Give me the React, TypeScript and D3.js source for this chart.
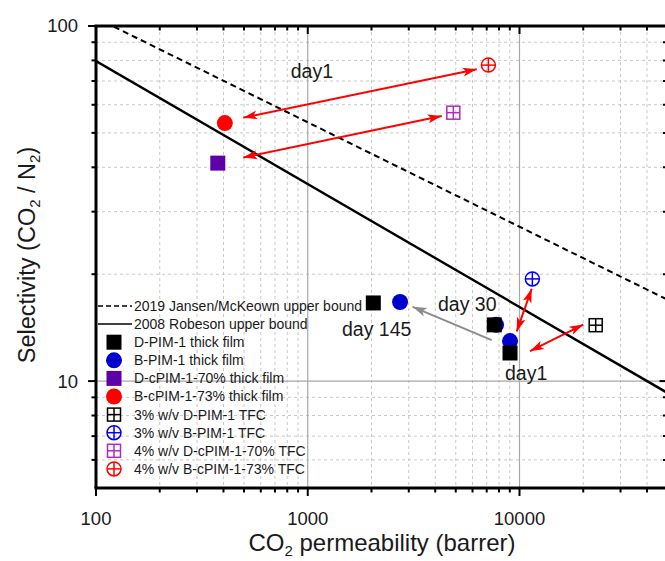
import React from "react";
import * as d3 from "d3";

// ---- data ----
const robesonX = [100, 50000];
const robesonY = [79.7, 9.26];
const jansenX = [100, 50000];
const jansenY = [105.4, 16.95];

const dPIM1X = [2040, 7600, 9020];
const dPIM1Y = [16.6, 14.4, 12.0];
const bPIM1X = [2728, 7750, 9020];
const bPIM1Y = [16.7, 14.4, 12.96];
const dcPIM70X = [376];
const dcPIM70Y = [41.1];
const bcPIM73X = [406];
const bcPIM73Y = [53.3];
const tfcDPIM1X = [22900];
const tfcDPIM1Y = [14.37];
const tfcBPIM1X = [11500];
const tfcBPIM1Y = [19.4];
const tfcDcPIMX = [4870];
const tfcDcPIMY = [57.0];
const tfcBcPIMX = [7130];
const tfcBcPIMY = [77.6];

// arrows: [x1, y1, x2, y2]
const redArrows = [
  [496, 55.2, 6281, 75.5],
  [496, 42.6, 4292, 55.8],
  [11420, 18.2, 9700, 13.8],
  [11210, 12.14, 20010, 14.43],
];
const grayArrow = [7390, 13.04, 3131, 16.19];

const annotations = [
  { text: "day1", x: 831, y: 71.4 },
  { text: "day 30", x: 4121, y: 15.74 },
  { text: "day 145", x: 1451, y: 13.36 },
  { text: "day1", x: 8541, y: 10.07 },
];

const xTicksMajor = [100, 1000, 10000];
const yTicksMajor = [10, 100];

const legendItems = [
  { label: "2019 Jansen/McKeown upper bound", kind: "dash", color: "#000" },
  { label: "2008 Robeson upper bound", kind: "line", color: "#000" },
  { label: "D-PIM-1 thick film", kind: "sq", color: "#000000" },
  { label: "B-PIM-1 thick film", kind: "circ", color: "#0000cc" },
  { label: "D-cPIM-1-70% thick film", kind: "sq", color: "#5e00a8" },
  { label: "B-cPIM-1-73% thick film", kind: "circ", color: "#ff0000" },
  { label: "3% w/v D-PIM-1 TFC", kind: "sqx", color: "#000000" },
  { label: "3% w/v B-PIM-1 TFC", kind: "circx", color: "#0000ff" },
  { label: "4% w/v D-cPIM-1-70% TFC", kind: "sqx", color: "#b02cc0" },
  { label: "4% w/v B-cPIM-1-73% TFC", kind: "circx", color: "#ff0000" },
];

const FONT = "'Liberation Sans', Arial, sans-serif";
const W = 665;
const H = 561;
const L = 96;
const T = 26;
const B = 488;
const R = 96 + 211.75 * Math.log10(500);

const x = d3.scaleLog().domain([100, 50000]).range([L, R]);
const y = d3.scaleLog().domain([5, 100]).range([B, T]);

function Marker({ kind, cx, cy, color }: { kind: string; cx: number; cy: number; color: string }) {
  if (kind === "sq") {
    const s = 15;
    return <rect x={cx - s / 2} y={cy - s / 2} width={s} height={s} fill={color} />;
  }
  if (kind === "circ") {
    return <circle cx={cx} cy={cy} r={8} fill={color} />;
  }
  if (kind === "sqx") {
    const s = 13;
    return (
      <g stroke={color} strokeWidth={1.5} fill="none">
        <rect x={cx - s / 2} y={cy - s / 2} width={s} height={s} />
        <line x1={cx} x2={cx} y1={cy - s / 2} y2={cy + s / 2} />
        <line x1={cx - s / 2} x2={cx + s / 2} y1={cy} y2={cy} />
      </g>
    );
  }
  if (kind === "circx") {
    const r = 7;
    return (
      <g stroke={color} strokeWidth={1.5} fill="none">
        <circle cx={cx} cy={cy} r={r} />
        <line x1={cx} x2={cx} y1={cy - r} y2={cy + r} />
        <line x1={cx - r} x2={cx + r} y1={cy} y2={cy} />
      </g>
    );
  }
  return null;
}

function arrowHead(x1: number, y1: number, x2: number, y2: number, len: number, half: number) {
  const a = Math.atan2(y2 - y1, x2 - x1);
  const bx = x2 - len * Math.cos(a);
  const by = y2 - len * Math.sin(a);
  const px = -Math.sin(a) * half;
  const py = Math.cos(a) * half;
  return `M${x2},${y2}L${bx + px},${by + py}L${bx + len * 0.25 * Math.cos(a)},${by + len * 0.25 * Math.sin(a)}L${bx - px},${by - py}Z`;
}

function Arrow({ a, color, double }: { a: number[]; color: string; double: boolean }) {
  const x1 = x(a[0]);
  const y1 = y(a[1]);
  const x2 = x(a[2]);
  const y2 = y(a[3]);
  return (
    <g>
      <line x1={x1} y1={y1} x2={x2} y2={y2} stroke={color} strokeWidth={2} />
      <path d={arrowHead(x1, y1, x2, y2, 14, 4.5)} fill={color} />
      {double && <path d={arrowHead(x2, y2, x1, y1, 14, 4.5)} fill={color} />}
    </g>
  );
}

function minorTicks(lo: number, hi: number) {
  const out: number[] = [];
  for (let dec = 1; dec <= 100000; dec *= 10) {
    for (let m = 2; m <= 9; m++) {
      const v = m * dec;
      if (v > lo && v < hi) out.push(v);
    }
  }
  return out;
}

export default function App() {
  const xMinor = minorTicks(100, 50000);
  const yMinor = minorTicks(5, 100);
  const mkPath = (xs: number[], ys: number[]) =>
    d3.line<number>().x((_, i) => x(xs[i])).y((_, i) => y(ys[i]))(xs) || "";

  return (
    <svg
      width={W}
      height={H}
      style={{ position: "absolute", left: 0, top: 0, background: "#fff" }}
      fontFamily={FONT}
    >
      <defs>
        <clipPath id="plot">
          <rect x={L} y={T} width={R - L} height={B - T} />
        </clipPath>
      </defs>
      <rect x={0} y={0} width={W} height={H} fill="#fff" />
      {/* grid */}
      <g stroke="#c8c8c8" strokeWidth={1} strokeDasharray="3,3">
        {xMinor.map((v) => (
          <line key={"gx" + v} x1={x(v)} x2={x(v)} y1={T} y2={B} />
        ))}
        {yMinor.map((v) => (
          <line key={"gy" + v} x1={L} x2={R} y1={y(v)} y2={y(v)} />
        ))}
      </g>
      <g stroke="#a8a8a8" strokeWidth={1.2}>
        {xTicksMajor.slice(1).map((v) => (
          <line key={"Gx" + v} x1={x(v)} x2={x(v)} y1={T} y2={B} />
        ))}
        {yTicksMajor.slice(0, 1).map((v) => (
          <line key={"Gy" + v} x1={L} x2={R} y1={y(v)} y2={y(v)} />
        ))}
      </g>

      {/* bound lines */}
      <g clipPath="url(#plot)">
        <path d={mkPath(jansenX, jansenY)} stroke="#000" strokeWidth={2} strokeDasharray="6,4" fill="none" />
        <path d={mkPath(robesonX, robesonY)} stroke="#000" strokeWidth={2.4} fill="none" />
      </g>

      {/* points */}
      {bPIM1X.map((v, i) => (
        <Marker key={"b" + i} kind="circ" cx={x(v)} cy={y(bPIM1Y[i])} color="#0000cc" />
      ))}
      {dPIM1X.map((v, i) => (
        <Marker key={"d" + i} kind="sq" cx={x(v)} cy={y(dPIM1Y[i])} color="#000" />
      ))}
      {dcPIM70X.map((v, i) => (
        <Marker key={"dc" + i} kind="sq" cx={x(v)} cy={y(dcPIM70Y[i])} color="#5e00a8" />
      ))}
      {bcPIM73X.map((v, i) => (
        <Marker key={"bc" + i} kind="circ" cx={x(v)} cy={y(bcPIM73Y[i])} color="#ff0000" />
      ))}
      {tfcDPIM1X.map((v, i) => (
        <Marker key={"t1" + i} kind="sqx" cx={x(v)} cy={y(tfcDPIM1Y[i])} color="#000" />
      ))}
      {tfcBPIM1X.map((v, i) => (
        <Marker key={"t2" + i} kind="circx" cx={x(v)} cy={y(tfcBPIM1Y[i])} color="#0000ff" />
      ))}
      {tfcDcPIMX.map((v, i) => (
        <Marker key={"t3" + i} kind="sqx" cx={x(v)} cy={y(tfcDcPIMY[i])} color="#b02cc0" />
      ))}
      {tfcBcPIMX.map((v, i) => (
        <Marker key={"t4" + i} kind="circx" cx={x(v)} cy={y(tfcBcPIMY[i])} color="#ff0000" />
      ))}

      {/* arrows */}
      {redArrows.map((a, i) => (
        <Arrow key={"ra" + i} a={a} color="#ff0000" double={true} />
      ))}
      <Arrow a={grayArrow} color="#8c8c8c" double={false} />

      {/* annotations */}
      {annotations.map((a, i) => (
        <text key={"an" + i} x={x(a.x)} y={y(a.y)} fontSize={19.5} fill="#1a1a1a">
          {a.text}
        </text>
      ))}

      {/* legend */}
      {legendItems.map((it, i) => {
        const ly = 306 + i * 18.1;
        return (
          <g key={"lg" + i}>
            {it.kind === "dash" && (
              <line x1={98} x2={132} y1={ly} y2={ly} stroke="#000" strokeWidth={1.5} strokeDasharray="5,3" />
            )}
            {it.kind === "line" && <line x1={98} x2={132} y1={ly} y2={ly} stroke="#000" strokeWidth={1.5} />}
            {it.kind !== "dash" && it.kind !== "line" && (
              <Marker kind={it.kind} cx={114} cy={ly} color={it.color} />
            )}
            <text x={134} y={ly} dy="0.35em" fontSize={14} fill="#1a1a1a">
              {it.label}
            </text>
          </g>
        );
      })}

      {/* axes */}
      <g stroke="#000" strokeWidth={3} fill="none">
        <line x1={L - 1.5} x2={R + 1.5} y1={B} y2={B} />
        <line x1={L - 1.5} x2={R + 1.5} y1={T} y2={T} />
        <line x1={L} x2={L} y1={T} y2={B} />
        <line x1={R} x2={R} y1={T} y2={B} />
      </g>
      <g stroke="#000" strokeWidth={2}>
        {xTicksMajor.map((v) => (
          <g key={"xt" + v}>
            <line x1={x(v)} x2={x(v)} y1={B} y2={B + 8} />
            <line x1={x(v)} x2={x(v)} y1={T} y2={T + 8} />
          </g>
        ))}
        {xMinor.map((v) => (
          <g key={"xm" + v}>
            <line x1={x(v)} x2={x(v)} y1={B} y2={B + 4.5} />
            <line x1={x(v)} x2={x(v)} y1={T} y2={T + 4.5} />
          </g>
        ))}
        {yTicksMajor.map((v) => (
          <g key={"yt" + v}>
            <line x1={L - 8} x2={L} y1={y(v)} y2={y(v)} />
            <line x1={R - 8} x2={R} y1={y(v)} y2={y(v)} />
          </g>
        ))}
        {yMinor.map((v) => (
          <g key={"ym" + v}>
            <line x1={L - 4.5} x2={L} y1={y(v)} y2={y(v)} />
            <line x1={R - 4.5} x2={R} y1={y(v)} y2={y(v)} />
          </g>
        ))}
      </g>
      {xTicksMajor.map((v) => (
        <text key={"xl" + v} x={x(v)} y={524.5} textAnchor="middle" fontSize={18.5} fill="#1a1a1a">
          {String(v)}
        </text>
      ))}
      {yTicksMajor.map((v) => (
        <text key={"yl" + v} x={78} y={y(v)} dy="0.35em" textAnchor="end" fontSize={18.5} fill="#1a1a1a">
          {String(v)}
        </text>
      ))}
      <text x={382} y={551} textAnchor="middle" fontSize={24} fill="#1a1a1a">
        CO<tspan fontSize={15} dy={5}>2</tspan>
        <tspan dy={-5}> permeability (barrer)</tspan>
      </text>
      <text transform={`translate(35,${(T + B) / 2 - 2}) rotate(-90)`} textAnchor="middle" fontSize={23.5} fill="#1a1a1a">
        Selectivity (CO<tspan fontSize={15} dy={5}>2</tspan>
        <tspan dy={-5}> / N</tspan>
        <tspan fontSize={15} dy={5}>2</tspan>
        <tspan dy={-5}>)</tspan>
      </text>
    </svg>
  );
}
